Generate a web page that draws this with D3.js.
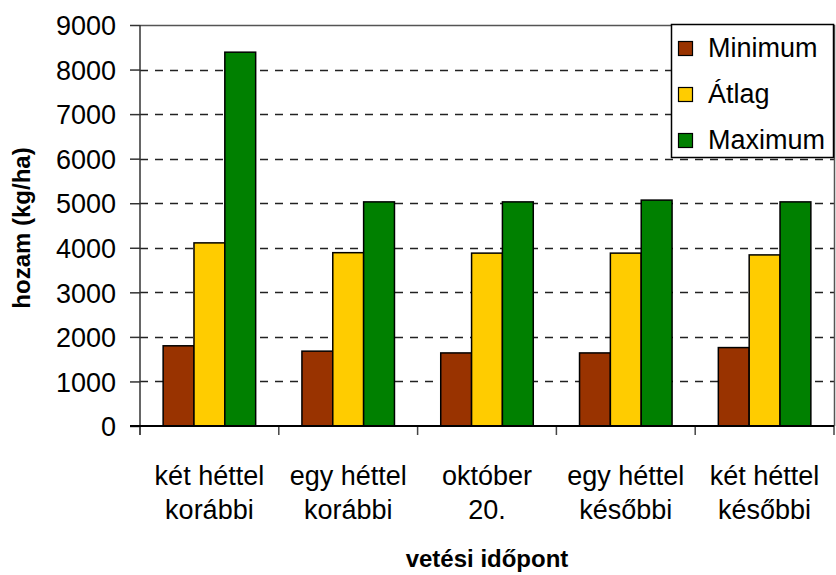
<!DOCTYPE html>
<html>
<head>
<meta charset="utf-8">
<script src="https://cdn.jsdelivr.net/npm/d3@7"></script>
<style>
  body { margin: 0; background: #fff; }
  text { font-family: "Liberation Sans", Arial, sans-serif; fill: #000; }
</style>
</head>
<body>
<script>
// data
var categories = [["két héttel", "korábbi"], ["egy héttel", "korábbi"], ["október", "20."], ["egy héttel", "későbbi"], ["két héttel", "későbbi"]];
var seriesNames = ["Minimum", "Átlag", "Maximum"];
var minimum = [1800, 1680, 1640, 1640, 1760];
var atlag = [4110, 3890, 3880, 3880, 3840];
var maximum = [8390, 5030, 5030, 5070, 5030];
var yTicks = [0, 1000, 2000, 3000, 4000, 5000, 6000, 7000, 8000, 9000];
var colors = ["#993300", "#ffcc00", "#008000"];

var width = 836, height = 575;
// plot area (note: "top" is reserved by window, so plotTop)
var plotLeft = 140, plotRight = 834, plotTop = 25, plotBottom = 426;

var svg = d3.select("body").append("svg")
    .attr("width", width)
    .attr("height", height);

var x = d3.scaleBand()
    .domain(d3.range(categories.length))
    .range([plotLeft, plotRight]);

// bars inside a group: gap width 150%
var x1 = d3.scaleBand()
    .domain(d3.range(3))
    .range([0, x.bandwidth()])
    .paddingOuter(0.75)
    .paddingInner(0);

var y = d3.scaleLinear()
    .domain([0, 9000])
    .range([plotBottom, plotTop]);

// gridlines
svg.append("g")
    .selectAll("line")
    .data(yTicks.filter(function(d){ return d > 0 && d < 9000; }))
    .enter().append("line")
    .attr("x1", plotLeft).attr("x2", plotRight)
    .attr("y1", function(d){ return Math.round(y(d)) + 0.5; })
    .attr("y2", function(d){ return Math.round(y(d)) + 0.5; })
    .attr("stroke", "#222")
    .attr("stroke-width", 1.5)
    .attr("stroke-dasharray", "8,7");

// plot frame top and right
svg.append("path")
    .attr("d", "M" + plotLeft + "," + (plotTop + 0.5) + "H" + (plotRight + 0.5) + "V" + plotBottom)
    .attr("fill", "none")
    .attr("stroke", "#555")
    .attr("stroke-width", 1.5);

// bars
var all = [minimum, atlag, maximum];
var groups = svg.append("g")
    .selectAll("g")
    .data(categories)
    .enter().append("g")
    .attr("transform", function(d, i){ return "translate(" + x(i) + ",0)"; });

groups.selectAll("rect")
    .data(function(d, i){ return all.map(function(s){ return s[i]; }); })
    .enter().append("rect")
    .attr("x", function(d, j){ return x1(j); })
    .attr("y", function(d){ return y(d); })
    .attr("width", x1.bandwidth())
    .attr("height", function(d){ return plotBottom - y(d); })
    .attr("fill", function(d, j){ return colors[j]; })
    .attr("stroke", "#000")
    .attr("stroke-width", 1.5);

// y axis
var yAxis = d3.axisLeft(y)
    .tickValues(yTicks)
    .tickSize(10)
    .tickPadding(14)
    .tickFormat(d3.format("d"));

var ya = svg.append("g")
    .attr("transform", "translate(" + plotLeft + ",0)")
    .call(yAxis);
ya.select(".domain").remove();
ya.append("line")
    .attr("y1", plotTop).attr("y2", plotBottom + 9)
    .attr("stroke", "#333").attr("stroke-width", 1.5);
ya.selectAll(".tick line").attr("stroke", "#333").attr("stroke-width", 1.5);
ya.selectAll("text")
    .style("font-size", "27px")
    .attr("dy", "0.36em")
    .attr("fill", "#000");

// x axis
var xa = svg.append("g")
    .attr("transform", "translate(0," + plotBottom + ")");
xa.selectAll(".xt")
    .data(d3.range(categories.length + 1))
    .enter().append("line")
    .attr("class", "xt")
    .attr("x1", function(i){ return plotLeft + i * x.step(); })
    .attr("x2", function(i){ return plotLeft + i * x.step(); })
    .attr("y1", 0).attr("y2", 9)
    .attr("stroke", "#444")
    .attr("stroke-width", 1.5);
xa.append("line")
    .attr("x1", plotLeft - 10).attr("x2", plotRight)
    .attr("stroke", "#000").attr("stroke-width", 2);

var labels = xa.selectAll(".xl")
    .data(categories)
    .enter().append("text")
    .attr("class", "xl")
    .attr("text-anchor", "middle")
    .style("font-size", "27px");
labels.selectAll("tspan")
    .data(function(d, i){ return d.map(function(t){ return {t: t, i: i}; }); })
    .enter().append("tspan")
    .attr("x", function(d){ return x(d.i) + x.bandwidth() / 2; })
    .attr("y", function(d, k){ return 59 + k * 34; })
    .text(function(d){ return d.t; });

// axis titles
svg.append("text")
    .attr("x", (plotLeft + plotRight) / 2)
    .attr("y", 567)
    .attr("text-anchor", "middle")
    .style("font-size", "24px")
    .style("font-weight", "bold")
    .text("vetési időpont");

svg.append("text")
    .attr("transform", "translate(30," + 228 + ") rotate(-90)")
    .attr("text-anchor", "middle")
    .style("font-size", "24px")
    .style("font-weight", "bold")
    .text("hozam (kg/ha)");

// legend
var legend = svg.append("g").attr("transform", "translate(671,24)");
legend.append("rect")
    .attr("x", 0.5).attr("y", 0.5)
    .attr("width", 162).attr("height", 133)
    .attr("fill", "#fff")
    .attr("stroke", "#000")
    .attr("stroke-width", 1.5);
var items = legend.selectAll(".li")
    .data(seriesNames)
    .enter().append("g")
    .attr("transform", function(d, i){ return "translate(0," + (17 + i * 46) + ")"; });
items.append("rect")
    .attr("x", 7.5).attr("y", 0.5)
    .attr("width", 14).attr("height", 14)
    .attr("fill", function(d, i){ return colors[i]; })
    .attr("stroke", "#000")
    .attr("stroke-width", 1.2);
items.append("text")
    .attr("x", 37)
    .attr("y", 16)
    .style("font-size", "27px")
    .text(function(d){ return d; });
</script>
</body>
</html>
